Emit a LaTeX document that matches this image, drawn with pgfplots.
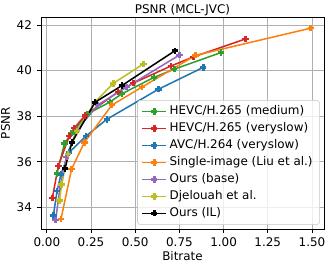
\documentclass[border=0pt]{standalone}
\usepackage{pgfplots}
\pgfplotsset{compat=1.18}
\usepackage{fontspec}
\setmainfont{DejaVu Sans}
\definecolor{cblue}{HTML}{1F77B4}
\definecolor{corange}{HTML}{FF7F0E}
\definecolor{cgreen}{HTML}{2CA02C}
\definecolor{cred}{HTML}{D62728}
\definecolor{cpurple}{HTML}{9467BD}
\definecolor{colive}{HTML}{BCBD22}
\definecolor{cgrid}{HTML}{B0B0B0}
\begin{document}
\begin{tikzpicture}
\useasboundingbox (-29.52pt,-27.36pt) rectangle (209.52pt,164.88pt);
\begin{axis}[
  at={(0,0)}, anchor=south west,
  scale only axis, width=203.76pt, height=152.64pt,
  xmin=-0.033, xmax=1.568, ymin=33.05, ymax=42.35,
  xtick={0,0.25,0.5,0.75,1.0,1.25,1.5},
  ytick={34,36,38,40,42},
  xticklabel style={/pgf/number format/.cd, fixed, fixed zerofill, precision=2},
  /pgf/number format/assume math mode=true,
  tick label style={font=\fontsize{8.6}{10}\selectfont},
  label style={font=\fontsize{8.6}{10}\selectfont},
  title style={font=\fontsize{8.6}{10}\selectfont, yshift=-9pt},
  title={PSNR (MCL-JVC)},
  xlabel={Bitrate}, ylabel={PSNR},
  xlabel style={yshift=4pt},
  ylabel style={yshift=-2pt},
  grid=major, major grid style={cgrid, line width=0.6pt},
  axis line style={line width=0.6pt},
  tick align=outside, major tick length=3pt, tick style={black, line width=0.6pt},
  xtick pos=bottom, ytick pos=left,
  every axis plot/.append style={line width=1.1pt, mark=+, mark size=2.3pt, mark options={solid, line width=1.8pt}},
  legend cell align=left,
  legend style={at={(1,0)}, anchor=south east, xshift=-3pt, yshift=3pt,
    font=\fontsize{8.6}{10}\selectfont, draw=cgrid!70, rounded corners=2pt,
    fill=white, fill opacity=0.8, text opacity=1, row sep=0pt,
    nodes={text height=6.5pt, text depth=1.9pt, inner ysep=1.9pt}},
]
\addplot[cgreen] coordinates {(0.057,35.48) (0.10,36.8) (0.14,37.25) (0.23,38.1) (0.357,38.62) (0.424,38.98) (0.606,39.70) (0.721,40.06) (0.985,40.79)};
\addlegendentry{HEVC/H.265 (medium)}
\addplot[cred] coordinates {(0.031,34.40) (0.065,35.82) (0.127,37.13) (0.154,37.47) (0.216,38.03) (0.404,39.07) (0.489,39.45) (0.702,40.20) (0.829,40.60) (1.125,41.39)};
\addlegendentry{HEVC/H.265 (veryslow)}
\addplot[cblue] coordinates {(0.037,33.65) (0.058,34.72) (0.080,35.45) (0.125,36.4) (0.222,37.13) (0.339,37.86) (0.631,39.18) (0.885,40.14)};
\addlegendentry{AVC/H.264 (veryslow)}
\addplot[corange] coordinates {(0.080,33.48) (0.140,35.68) (0.212,36.84) (0.367,38.48) (0.537,39.27) (0.842,40.67) (1.493,41.86)};
\addlegendentry{Single-image (Liu et al.)}
\addplot[cpurple] coordinates {(0.050,33.45) (0.075,34.9) (0.11,36.2) (0.17,37.4) (0.29,38.5) (0.45,39.27) (0.75,40.68)};
\addlegendentry{Ours (base)}
\addplot[colive] coordinates {(0.071,34.29) (0.084,35.0) (0.12,36.35) (0.17,37.35) (0.273,38.62) (0.376,39.44) (0.546,40.29)};
\addlegendentry{Djelouah et al.}
\addplot[black] coordinates {(0.103,35.71) (0.141,36.84) (0.273,38.61) (0.424,39.34) (0.725,40.87)};
\addlegendentry{Ours (IL)}
\end{axis}
\end{tikzpicture}
\end{document}
